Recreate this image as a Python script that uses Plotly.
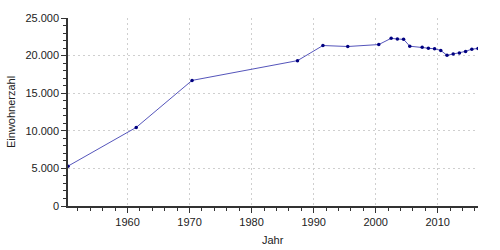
import plotly.graph_objects as go

years = [1950.4, 1961.4, 1970.4, 1987.4, 1991.5, 1995.5, 2000.5, 2002.5, 2003.5, 2004.5,
         2005.5, 2007.5, 2008.5, 2009.5, 2010.5, 2011.5, 2012.5, 2013.5, 2014.5, 2015.5, 2016.5]
population = [5300, 10450, 16700, 19330, 21340, 21210, 21470, 22300, 22200, 22170,
              21250, 21120, 20990, 20900, 20690, 20040, 20210, 20340, 20560, 20860, 20950]

fig = go.Figure()
fig.add_trace(go.Scatter(
    x=years, y=population, mode="lines+markers",
    line=dict(color="#5555bb", width=1),
    marker=dict(color="#000080", size=3.5),
    hoverinfo="skip",
))

axis_font = dict(family="Liberation Sans, Arial, sans-serif", size=11, color="#222")
grid = dict(showgrid=True, gridcolor="#cfcfcf", griddash="2px,3px", gridwidth=1)
fig.update_layout(
    width=500, height=250,
    margin=dict(l=68, r=22, t=14, b=44),
    paper_bgcolor="white", plot_bgcolor="white",
    separators=",.",
    showlegend=False,
    font=axis_font,
    xaxis=dict(
        range=[1950.4, 2016.5], tickmode="linear", tick0=1960, dtick=10,
        tickformat="d", ticks="outside", ticklen=5, tickcolor="#333", tickwidth=1,
        showline=True, linecolor="#333", linewidth=1.5,
        zeroline=False,
        minor=dict(tick0=1960, dtick=2, ticks="outside", ticklen=3, tickcolor="#333", showgrid=False),
        tickfont=axis_font, **grid,
    ),
    yaxis=dict(
        range=[0, 25000], tickmode="linear", tick0=0, dtick=5000,
        tickformat=",d", ticks="outside", ticklen=5, tickcolor="#333", tickwidth=1,
        showline=True, linecolor="#333", linewidth=1.5,
        zeroline=False,
        minor=dict(tick0=0, dtick=1000, ticks="outside", ticklen=3, tickcolor="#333", showgrid=False),
        tickfont=axis_font, **grid,
    ),
    annotations=[
        dict(text="Jahr", x=(273 - 68) / 410, y=-(240 - 205.7) / 191.7, xref="paper", yref="paper",
             showarrow=False, xanchor="center", yanchor="middle", font=axis_font),
        dict(text="Einwohnerzahl", x=-(68 - 11) / 410, y=0.5, xref="paper", yref="paper",
             showarrow=False, textangle=-90, xanchor="center", yanchor="middle", font=axis_font),
    ],
)

fig.write_html("out.html")
